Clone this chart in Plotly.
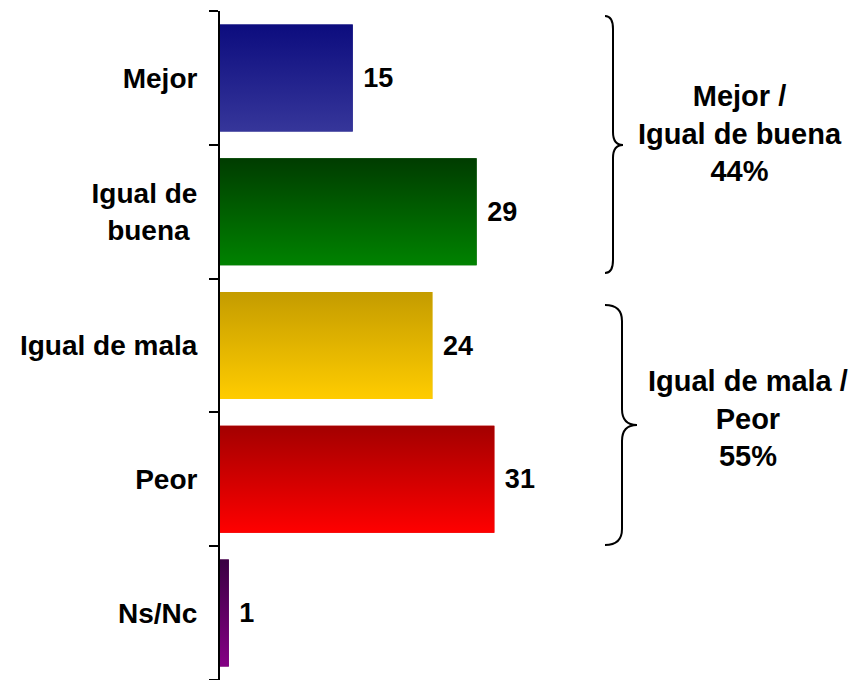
import plotly.graph_objects as go

categories = ["Mejor", "Igual de buena", "Igual de mala", "Peor", "Ns/Nc"]
tick_labels = ["Mejor", "Igual de<br>buena\u00a0", "Igual de mala", "Peor", "Ns/Nc"]
values = [15, 29, 24, 31, 1]
top_colors = ["#0c0c7e", "#003c00", "#c49c00", "#a30000", "#3a0042"]
bottom_colors = ["#36369a", "#008200", "#ffcc00", "#ff0000", "#850085"]
mid_colors = ["#22228c", "#006000", "#e0b400", "#d00000", "#600060"]
group_texts = ["Mejor /<br>Igual de buena<br>44%", "Igual de mala /<br>Peor<br>55%"]

OFF = 8  # page body margin
W, H = 850, 672
ML, MR, MT, MB = 212, 0, 3, 0
PW, PH = W - ML - MR, H - MT - MB
XMAX = PW / 8.85
FONT = "Arial, Liberation Sans, sans-serif"
BW = 0.8

fig = go.Figure()
fig.add_trace(go.Bar(
    y=categories, x=values, orientation="h", width=BW,
    marker=dict(color=mid_colors, line=dict(width=0)),
    text=[f" {v}" for v in values], textposition="outside", cliponaxis=False,
    textfont=dict(family=FONT, size=27, color="black", weight="bold"),
    hoverinfo="skip", showlegend=False,
))

for i, v in enumerate(values):
    y0, y1 = i - BW / 2, i + BW / 2
    fig.add_trace(go.Scatter(
        x=[0, v, v, 0, 0], y=[y0, y0, y1, y1, y0],
        yaxis="y2", mode="lines", line=dict(width=0), fill="toself",
        fillgradient=dict(type="vertical", start=y0, stop=y1,
                          colorscale=[[0, top_colors[i]], [1, bottom_colors[i]]]),
        hoverinfo="skip", showlegend=False,
    ))

def px(sx, sy):
    fx, fy = sx - OFF, sy - OFF
    return (fx - ML) / PW, (H - MB - fy) / PH

def brace(x0, x1, xt, yt, ym, yb, r):
    pts = [
        ("M", [(x0, yt)]),
        ("Q", [(x1, yt), (x1, yt + r)]),
        ("L", [(x1, ym - r)]),
        ("Q", [(x1, ym), (xt, ym)]),
        ("Q", [(x1, ym), (x1, ym + r)]),
        ("L", [(x1, yb - r)]),
        ("Q", [(x1, yb), (x0, yb)]),
    ]
    s = ""
    for cmd, ps in pts:
        s += cmd + " " + " ".join("%.5f,%.5f" % px(a, b) for a, b in ps) + " "
    return s

for path in [brace(605, 613, 623, 16, 145, 273, 13), brace(605, 622, 637, 305, 425, 545, 16)]:
    fig.add_shape(type="path", path=path, xref="paper", yref="paper",
                  line=dict(color="black", width=2))

for (cx, cy), t in zip([(740, 134), (748, 418)], group_texts):
    ax, ay = px(cx, cy)
    fig.add_annotation(x=ax, y=ay, xref="paper", yref="paper", text=t, showarrow=False,
                       xanchor="center", yanchor="middle",
                       font=dict(family=FONT, size=29, color="black", weight="bold"),
                       align="center")

fig.update_layout(
    width=W, height=H, margin=dict(l=ML, r=MR, t=MT, b=MB, autoexpand=False),
    plot_bgcolor="white", paper_bgcolor="white", bargap=0.2,
    xaxis=dict(range=[0, XMAX], visible=False, fixedrange=True, automargin=False),
    yaxis=dict(type="category", categoryorder="array", categoryarray=categories,
               tickvals=categories, ticktext=tick_labels, automargin=False,
               range=[4.5, -0.5], showline=True, linecolor="black", linewidth=2,
               ticks="outside", tickson="boundaries", ticklen=9, tickwidth=2, tickcolor="black",
               ticklabelstandoff=15, showgrid=False, zeroline=False,
               tickfont=dict(family=FONT, size=28, color="black", weight="bold")),
    yaxis2=dict(overlaying="y", range=[4.5, -0.5], visible=False, fixedrange=True),
)

fig.write_html("out.html")
